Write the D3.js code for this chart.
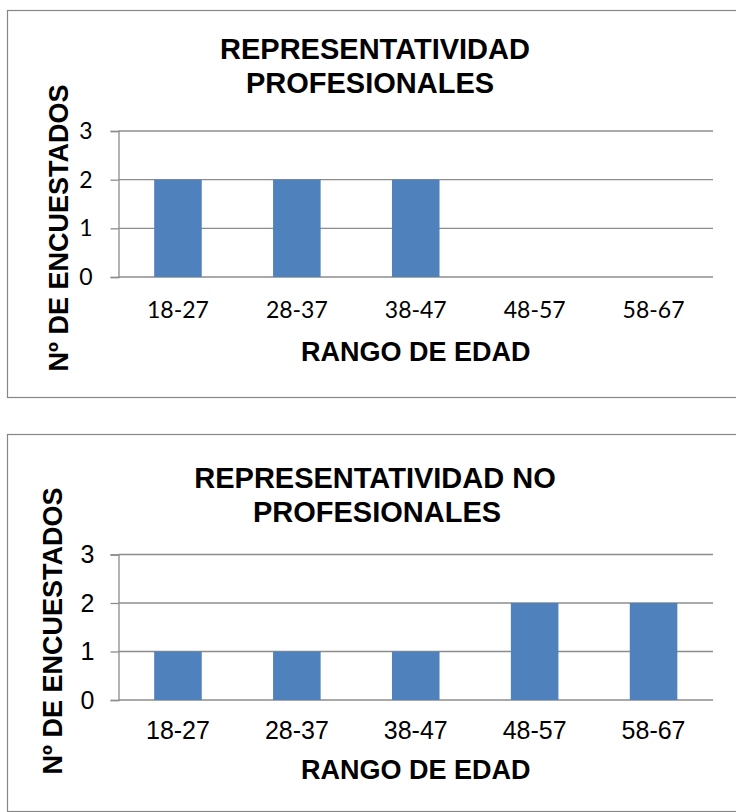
<!DOCTYPE html>
<html>
<head>
<meta charset="utf-8">
<script src="https://cdn.jsdelivr.net/npm/d3@7"></script>
<style>
  html, body { margin: 0; padding: 0; background: #fff; }
  svg { display: block; }
</style>
</head>
<body>
<svg id="chart" width="736" height="812"></svg>
<script>
// Age ranges and respondent counts per group
const categories = ["18-27", "28-37", "38-47", "48-57", "58-67"];
const profesionales = [2, 2, 2, 0, 0];
const noProfesionales = [1, 1, 1, 2, 2];
const yTicks = [0, 1, 2, 3];
const titleProfesionales = ["REPRESENTATIVIDAD", "PROFESIONALES"];
const titleNoProfesionales = ["REPRESENTATIVIDAD NO", "PROFESIONALES"];
const xAxisTitle = "RANGO DE EDAD";
const yAxisTitle = "Nº DE ENCUESTADOS";

const svg = d3.select("#chart");
const ARIAL = "'Liberation Sans', Arial, sans-serif";
const GRID = "#8c8c8c";
const BAR = "#4f81bd";

function drawChart(o) {
  const g = svg.append("g");

  // outer frame
  g.append("rect")
    .attr("x", o.box[0] + 0.5).attr("y", o.box[1] + 0.5)
    .attr("width", o.box[2]).attr("height", o.box[3])
    .attr("fill", "#fff").attr("stroke", "#878787").attr("stroke-width", 1.2);

  const x = d3.scaleBand().domain(categories)
    .range([o.plot.left, o.plot.right])
    .paddingInner(0.6).paddingOuter(0.3);
  const y = d3.scaleLinear().domain([0, 3]).range([o.plot.bottom, o.plot.top]);

  // horizontal gridlines
  g.append("g").selectAll("line").data(yTicks).join("line")
    .attr("x1", o.plot.left).attr("x2", o.plot.right)
    .attr("y1", d => y(d)).attr("y2", d => y(d))
    .attr("stroke", GRID).attr("stroke-width", 1.3);

  // bars
  g.append("g").selectAll("rect").data(o.values.map((v, i) => ({ c: categories[i], v })))
    .join("rect")
    .attr("x", d => x(d.c)).attr("width", x.bandwidth())
    .attr("y", d => y(d.v)).attr("height", d => y(0) - y(d.v))
    .attr("fill", BAR);

  // y axis
  const ya = g.append("g")
    .attr("transform", `translate(${o.plot.left},0)`)
    .call(d3.axisLeft(y).tickValues(yTicks).tickFormat(d3.format("d"))
      .tickSize(8).tickPadding(o.yPad));
  ya.select(".domain").attr("stroke", GRID).attr("stroke-width", 1.3);
  ya.selectAll(".tick line").attr("stroke", GRID).attr("stroke-width", 1.3);
  ya.selectAll(".tick text")
    .attr("font-family", o.tickFont).attr("font-size", o.tickSize).attr("fill", "#000");

  // x axis labels (no tick marks)
  const xa = g.append("g")
    .attr("transform", `translate(0,${o.plot.bottom})`)
    .call(d3.axisBottom(x).tickSize(0).tickPadding(o.xPad));
  xa.select(".domain").remove();
  xa.selectAll(".tick text")
    .attr("font-family", o.tickFont).attr("font-size", o.tickSize).attr("fill", "#000");

  // chart title
  g.append("g").selectAll("text").data(o.title).join("text")
    .attr("x", (d, i) => o.titleX[i]).attr("y", (d, i) => o.titleY[i])
    .attr("text-anchor", "middle")
    .attr("font-family", ARIAL).attr("font-weight", "bold").attr("font-size", 29)
    .text(d => d);

  // axis titles
  g.append("text")
    .attr("x", (o.plot.left + o.plot.right) / 2).attr("y", o.xTitleY)
    .attr("text-anchor", "middle")
    .attr("font-family", ARIAL).attr("font-weight", "bold").attr("font-size", 27)
    .text(xAxisTitle);

  g.append("text")
    .attr("transform", `translate(${o.yTitleX},${o.yTitleCY}) rotate(-90)`)
    .attr("text-anchor", "middle")
    .attr("font-family", ARIAL).attr("font-weight", "bold").attr("font-size", 27)
    .text(yAxisTitle);
}

drawChart({
  box: [7, 10, 740, 387],
  plot: { left: 118.5, right: 713, top: 131, bottom: 277 },
  values: profesionales,
  title: titleProfesionales,
  titleX: [375, 370],
  titleY: [58.5, 92.5],
  tickFont: "Lato, 'Open Sans', sans-serif",
  tickSize: 23,
  yPad: 18,
  xPad: 25,
  xTitleY: 361,
  yTitleX: 68,
  yTitleCY: 228
});

drawChart({
  box: [7, 434, 740, 377],
  plot: { left: 118.5, right: 713, top: 554.5, bottom: 700 },
  values: noProfesionales,
  title: titleNoProfesionales,
  titleX: [375, 377],
  titleY: [487.5, 521.5],
  tickFont: ARIAL,
  tickSize: 25,
  yPad: 16,
  xPad: 21,
  xTitleY: 778.5,
  yTitleX: 62,
  yTitleCY: 631
});
</script>
</body>
</html>
